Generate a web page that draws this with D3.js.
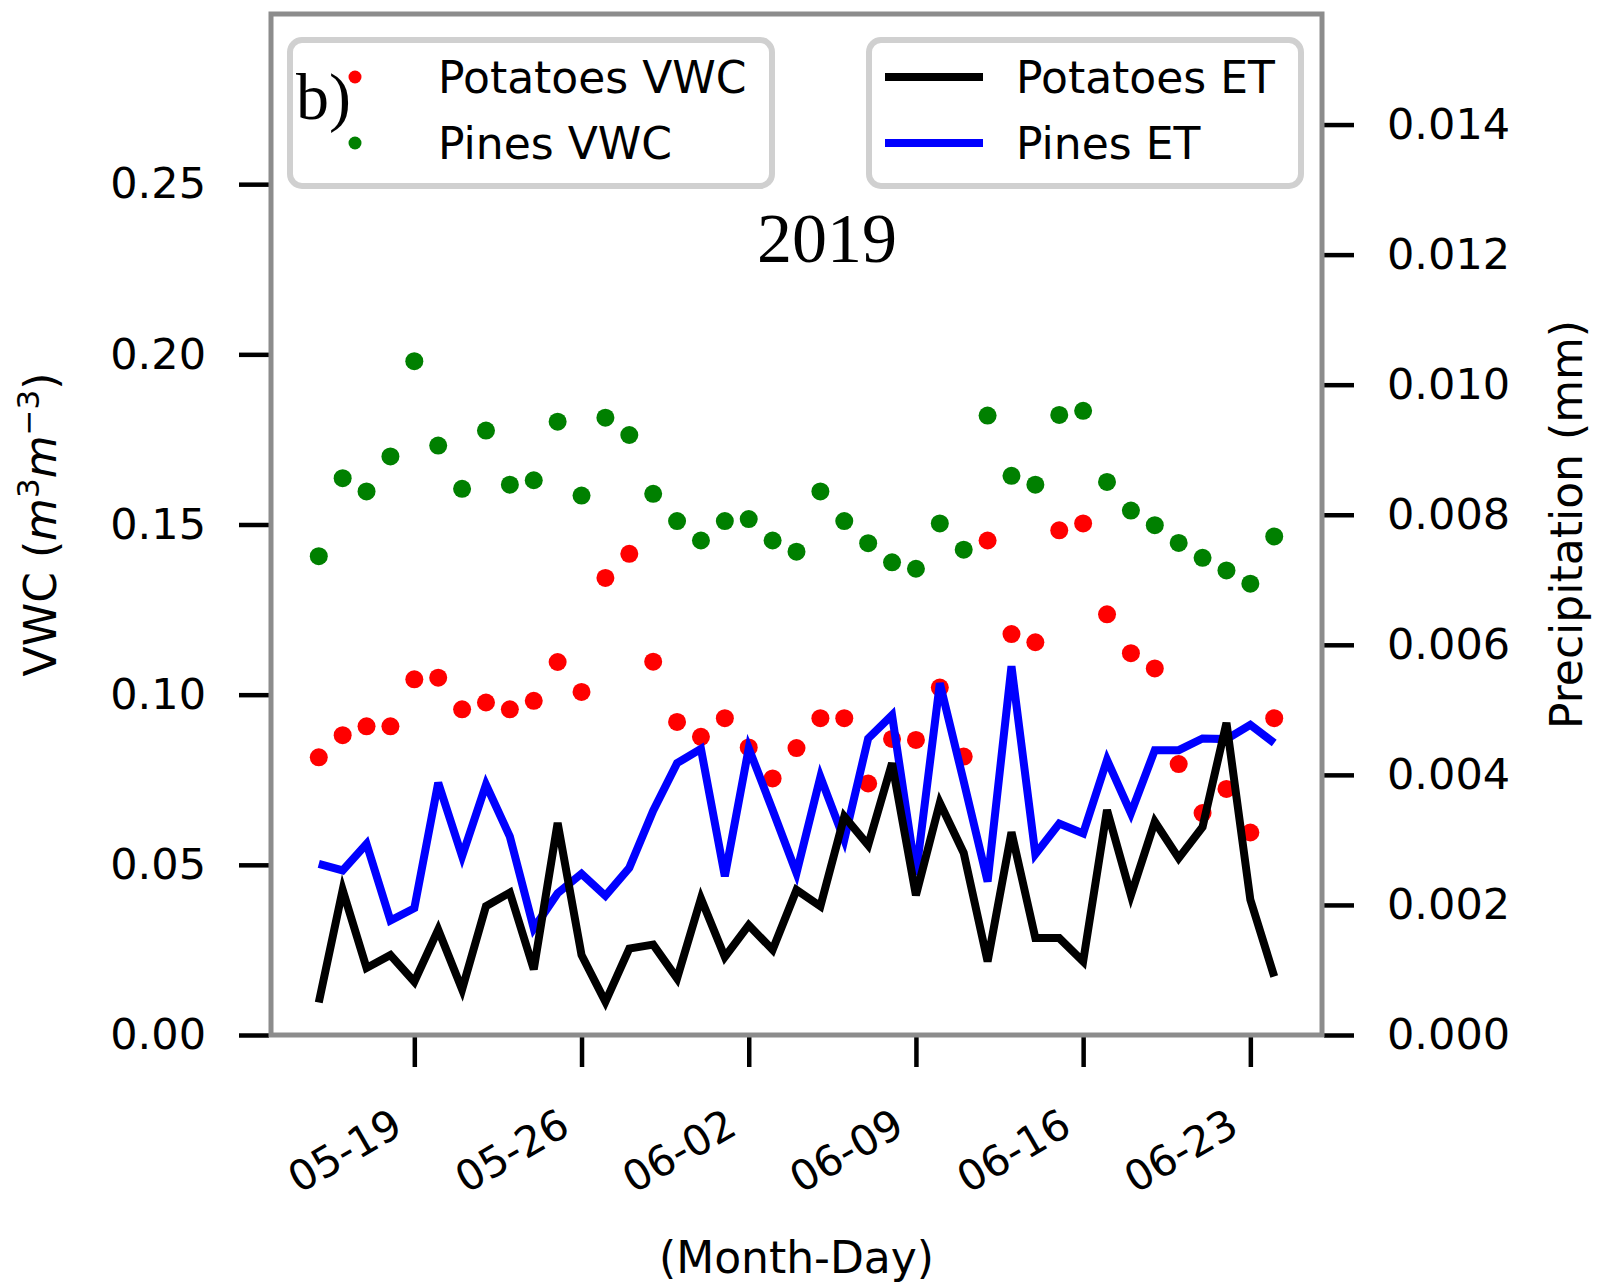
<!DOCTYPE html>
<html>
<head>
<meta charset="utf-8">
<script src="https://d3js.org/d3.v7.min.js"></script>
<style>
  body { margin: 0; background: #fff; }
  svg { display: block; }
</style>
</head>
<body>
<svg id="chart" width="1598" height="1284"></svg>
<script>
// daily values, 2019 growing season
var days = ["05-15","05-16","05-17","05-18","05-19","05-20","05-21","05-22","05-23","05-24",
            "05-25","05-26","05-27","05-28","05-29","05-30","05-31","06-01","06-02","06-03",
            "06-04","06-05","06-06","06-07","06-08","06-09","06-10","06-11","06-12","06-13",
            "06-14","06-15","06-16","06-17","06-18","06-19","06-20","06-21","06-22","06-23","06-24"];

var potatoesVWC = [0.0816, 0.0881, 0.0907, 0.0907, 0.1045, 0.1050, 0.0957, 0.0977, 0.0957, 0.0982,
                   0.1096, 0.1008, 0.1343, 0.1414, 0.1097, 0.0920, 0.0876, 0.0931, 0.0845, 0.0754,
                   0.0843, 0.0931, 0.0931, 0.0739, 0.0870, 0.0867, 0.1021, 0.0818, 0.1453, 0.1178,
                   0.1154, 0.1483, 0.1503, 0.1236, 0.1122, 0.1077, 0.0796, 0.0652, 0.0723, 0.0595, 0.0931];

var pinesVWC = [0.1407, 0.1636, 0.1597, 0.1700, 0.1980, 0.1732, 0.1605, 0.1776, 0.1617, 0.1630,
                0.1802, 0.1585, 0.1814, 0.1763, 0.1590, 0.1510, 0.1453, 0.1510, 0.1516, 0.1453,
                0.1420, 0.1597, 0.1510, 0.1445, 0.1389, 0.1370, 0.1503, 0.1426, 0.1820, 0.1643,
                0.1617, 0.1822, 0.1834, 0.1625, 0.1541, 0.1498, 0.1446, 0.1402, 0.1365, 0.1326, 0.1465];

var potatoesET = [0.00050, 0.00223, 0.00103, 0.00123, 0.00082, 0.00162, 0.00070, 0.00198, 0.00219, 0.00101,
                  0.00326, 0.00123, 0.00051, 0.00133, 0.00139, 0.00087, 0.00210, 0.00120, 0.00169, 0.00131,
                  0.00223, 0.00198, 0.00336, 0.00292, 0.00418, 0.00215, 0.00357, 0.00280, 0.00113, 0.00312,
                  0.00149, 0.00149, 0.00113, 0.00346, 0.00215, 0.00328, 0.00272, 0.00320, 0.00480, 0.00208, 0.00090];

var pinesET = [0.00263, 0.00253, 0.00294, 0.00176, 0.00195, 0.00388, 0.00275, 0.00385, 0.00305, 0.00164,
               0.00218, 0.00248, 0.00214, 0.00257, 0.00345, 0.00418, 0.00440, 0.00244, 0.00441, 0.00346,
               0.00249, 0.00397, 0.00300, 0.00456, 0.00492, 0.00246, 0.00541, 0.00390, 0.00236, 0.00567,
               0.00278, 0.00325, 0.00310, 0.00423, 0.00341, 0.00438, 0.00438, 0.00456, 0.00455, 0.00477, 0.00449];

var xTickLabels = ["05-19", "05-26", "06-02", "06-09", "06-16", "06-23"];
var leftTicks = [0.00, 0.05, 0.10, 0.15, 0.20, 0.25];
var rightTicks = [0.000, 0.002, 0.004, 0.006, 0.008, 0.010, 0.012, 0.014];

var svg = d3.select("#chart"),
    margin = {top: 14, right: 276, bottom: 249, left: 271},
    width = +svg.attr("width") - margin.left - margin.right,
    height = +svg.attr("height") - margin.top - margin.bottom,
    g = svg.append("g").attr("transform", "translate(" + margin.left + "," + margin.top + ")");

var font = "DejaVu Sans, sans-serif";
var parse = d3.utcParse("%Y-%m-%d");
var dates = days.map(function(d) { return parse("2019-" + d); });

var x = d3.scaleUtc()
    .domain([d3.utcDay.offset(dates[0], -2), d3.utcDay.offset(dates[dates.length - 1], 2)])
    .range([0, width]);

var y = d3.scaleLinear().domain([0, 0.3]).range([height, 0]);
var y2 = d3.scaleLinear().domain([0, 0.0157]).range([height, 0]);

// axes
var yAxis = g.append("g")
    .attr("transform", "translate(-2,0)")
    .call(d3.axisLeft(y).tickValues(leftTicks).tickFormat(d3.format(".2f"))
      .tickSizeInner(30).tickSizeOuter(0).tickPadding(33));

var yAxis2 = g.append("g")
    .attr("transform", "translate(" + (width + 2) + ",0)")
    .call(d3.axisRight(y2).tickValues(rightTicks).tickFormat(d3.format(".3f"))
      .tickSizeInner(30).tickSizeOuter(0).tickPadding(33));

var xAxis = g.append("g")
    .attr("transform", "translate(0," + (height + 2) + ")")
    .call(d3.axisBottom(x).tickValues(xTickLabels.map(function(d) { return parse("2019-" + d); }))
      .tickSizeInner(30).tickSizeOuter(0).tickFormat(""));

[yAxis, yAxis2, xAxis].forEach(function(a) {
  a.select(".domain").remove();
  a.selectAll(".tick line").attr("stroke", "#000").attr("stroke-width", 4.5);
  a.selectAll(".tick text").attr("font-family", font).attr("font-size", 43).attr("fill", "#000");
});

xAxis.selectAll(".tick").append("text")
    .attr("font-family", font)
    .attr("font-size", 42)
    .attr("fill", "#000")
    .attr("text-anchor", "end")
    .attr("transform", "translate(-10,96) rotate(-30)")
    .text(function(d, i) { return xTickLabels[i]; });

// points
g.append("g").selectAll("circle")
  .data(pinesVWC)
  .enter().append("circle")
    .attr("cx", function(d, i) { return x(dates[i]); })
    .attr("cy", function(d) { return y(d); })
    .attr("r", 9)
    .attr("fill", "#008000");

g.append("g").selectAll("circle")
  .data(potatoesVWC)
  .enter().append("circle")
    .attr("cx", function(d, i) { return x(dates[i]); })
    .attr("cy", function(d) { return y(d); })
    .attr("r", 9)
    .attr("fill", "#ff0000");

// lines on the right axis
var line = d3.line()
    .x(function(d, i) { return x(dates[i]); })
    .y(function(d) { return y2(d); });

g.append("path")
    .datum(pinesET)
    .attr("d", line)
    .attr("fill", "none")
    .attr("stroke", "#0000ff")
    .attr("stroke-width", 8)
    .attr("stroke-linejoin", "miter");

g.append("path")
    .datum(potatoesET)
    .attr("d", line)
    .attr("fill", "none")
    .attr("stroke", "#000")
    .attr("stroke-width", 8)
    .attr("stroke-linejoin", "miter");

// frame
g.append("rect")
    .attr("width", width)
    .attr("height", height)
    .attr("fill", "none")
    .attr("stroke", "#8c8c8c")
    .attr("stroke-width", 5);

// legends
var legendL = svg.append("g");
legendL.append("rect")
    .attr("x", 290).attr("y", 40).attr("width", 482).attr("height", 146).attr("rx", 12)
    .attr("fill", "#fff").attr("stroke", "#d0d0d0").attr("stroke-width", 6);
legendL.selectAll("circle")
  .data([["Potatoes VWC", "#ff0000"], ["Pines VWC", "#008000"]])
  .enter().append("circle")
    .attr("cx", 355)
    .attr("cy", function(d, i) { return 77 + i * 66; })
    .attr("r", 6.5)
    .attr("fill", function(d) { return d[1]; });
legendL.selectAll("text")
  .data(["Potatoes VWC", "Pines VWC"])
  .enter().append("text")
    .attr("x", 438)
    .attr("y", function(d, i) { return 77 + i * 66; })
    .attr("dy", "0.36em")
    .attr("font-family", font).attr("font-size", 44)
    .text(function(d) { return d; });

var legendR = svg.append("g");
legendR.append("rect")
    .attr("x", 869).attr("y", 40).attr("width", 432).attr("height", 146).attr("rx", 12)
    .attr("fill", "#fff").attr("stroke", "#d0d0d0").attr("stroke-width", 6);
legendR.selectAll("line")
  .data([["Potatoes ET", "#000"], ["Pines ET", "#0000ff"]])
  .enter().append("line")
    .attr("x1", 885).attr("x2", 983)
    .attr("y1", function(d, i) { return 77 + i * 66; })
    .attr("y2", function(d, i) { return 77 + i * 66; })
    .attr("stroke", function(d) { return d[1]; })
    .attr("stroke-width", 8);
legendR.selectAll("text")
  .data(["Potatoes ET", "Pines ET"])
  .enter().append("text")
    .attr("x", 1016)
    .attr("y", function(d, i) { return 77 + i * 66; })
    .attr("dy", "0.36em")
    .attr("font-family", font).attr("font-size", 44)
    .text(function(d) { return d; });

// panel letter and year
svg.append("text")
    .attr("x", 296).attr("y", 119)
    .attr("font-family", "Liberation Serif, serif").attr("font-size", 66)
    .text("b)");

svg.append("text")
    .attr("x", 827).attr("y", 262)
    .attr("text-anchor", "middle")
    .attr("font-family", "Liberation Serif, serif").attr("font-size", 70)
    .text("2019");

// axis titles
svg.append("text")
    .attr("x", margin.left + width / 2).attr("y", 1273)
    .attr("text-anchor", "middle")
    .attr("font-family", font).attr("font-size", 44)
    .text("(Month-Day)");

var ylab = svg.append("text")
    .attr("transform", "translate(56," + (margin.top + height / 2) + ") rotate(-90)")
    .attr("text-anchor", "middle")
    .attr("font-family", font).attr("font-size", 44);
ylab.append("tspan").text("VWC (");
ylab.append("tspan").attr("font-style", "italic").text("m");
ylab.append("tspan").attr("font-size", 31).attr("dy", -17).text("3");
ylab.append("tspan").attr("font-style", "italic").attr("dy", 17).text("m");
ylab.append("tspan").attr("font-size", 31).attr("dy", -17).text("\u22123");
ylab.append("tspan").attr("dy", 17).text(")");

svg.append("text")
    .attr("transform", "translate(1582," + (margin.top + height / 2) + ") rotate(-90)")
    .attr("text-anchor", "middle")
    .attr("font-family", font).attr("font-size", 44)
    .text("Precipitation (mm)");
</script>
</body>
</html>
